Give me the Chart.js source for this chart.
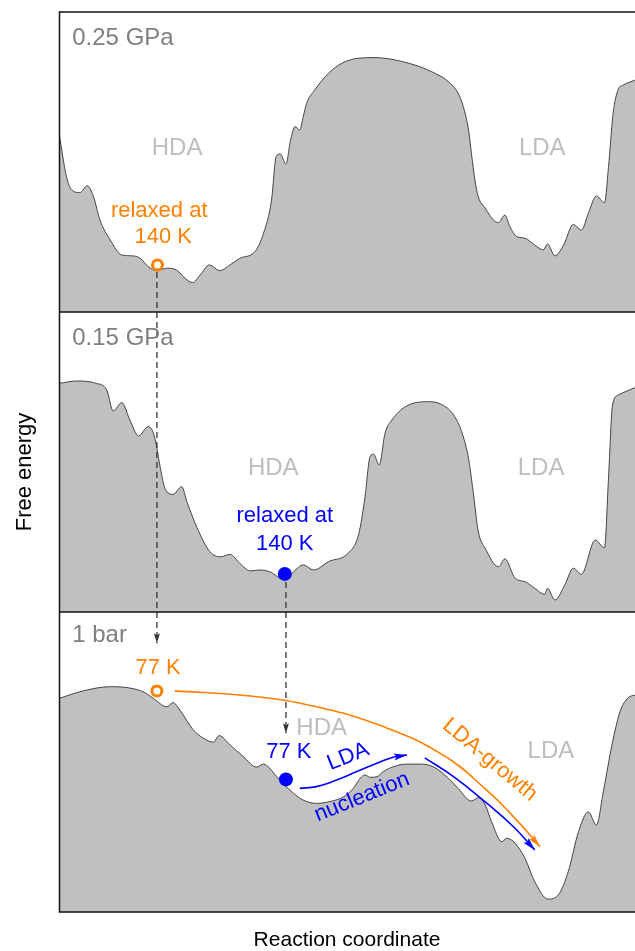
<!DOCTYPE html>
<html lang="en">
<head>
<meta charset="UTF-8">
<title>Free energy landscapes</title>
<script src="https://cdn.jsdelivr.net/npm/chart.js"></script>
<style>
  html, body { margin: 0; padding: 0; background: #fff; }
  canvas { display: block; }
</style>
</head>
<body>
<canvas id="grafico" width="635" height="951"></canvas>
<script>
// ================= DATA (reaction coordinate 0-100, free energy 0-100 per panel) =================
const panelNames = ['0.25 GPa', '0.15 GPa', '1 bar'];

// 0.25 GPa
const x025 = [0, 1.3, 2.2, 3.6, 4.9, 6.0, 7.1, 8.9, 10.9, 12.9, 14.1, 15.5, 17.0, 18.7, 20.4, 21.9, 23.2, 24.5, 26.1, 27.9,
  29.7, 31.4, 34.0, 35.5, 36.9, 37.7, 38.4, 39.4, 40.2, 41.0, 41.8, 42.4, 43.0, 44.4, 46.8, 49.1, 52.0, 54.9, 57.8, 61.8,
  64.7, 67.6, 69.3, 70.2, 71.1, 71.6, 72.2, 72.8, 74.0, 75.4, 76.3, 77.4, 78.3, 79.5, 80.9, 82.6, 84.1, 84.8, 86.1, 87.6,
  89.3, 89.9, 90.7, 91.9, 93.3, 94.7, 95.4, 96.2, 97.1, 98.0, 100];
const e025 = [59.7, 45.1, 40.7, 39.8, 42.1, 38.4, 30.7, 24.0, 19.0, 18.7, 17.9, 15.1, 13.8, 14.6, 14.0, 11.2, 9.8, 12.3, 15.7, 13.8,
  15.7, 17.9, 20.1, 26.2, 37.3, 51.8, 52.7, 49.3, 57.3, 61.8, 60.7, 65.1, 69.6, 74.0, 79.6, 82.9, 84.6, 84.8, 84.2, 82.3,
  80.1, 76.8, 72.9, 68.4, 60.7, 52.9, 44.0, 38.4, 34.6, 30.7, 29.8, 32.3, 28.4, 25.1, 24.6, 22.3, 20.7, 22.7, 18.7, 22.3,
  29.2, 28.4, 27.3, 32.9, 38.7, 36.4, 48.4, 66.2, 74.2, 75.7, 77.3];

// 0.15 GPa
const x015 = [0, 3.1, 6.5, 8.3, 9.4, 10.9, 12.3, 13.8, 15.5, 16.4, 17.0, 17.5, 18.4, 19.8, 21.3, 22.2, 23.9, 26.2, 28.0, 29.7,
  31.4, 33.2, 34.9, 36.6, 39.2, 40.7, 42.4, 44.2, 46.8, 50.2, 52.0, 53.1, 54.0, 54.6, 55.6, 56.6, 57.8, 60.1, 64.1, 66.4,
  68.5, 69.9, 71.1, 71.9, 72.8, 74.0, 76.3, 77.4, 79.2, 80.9, 82.6, 84.3, 84.8, 86.1, 87.8, 89.3, 90.7, 93.1, 94.7, 95.4,
  96.1, 97.1, 100];
const e015 = [76.2, 77.0, 76.2, 74.0, 67.0, 69.8, 64.0, 58.7, 61.8, 59.6, 54.6, 49.0, 41.2, 39.2, 41.8, 36.8, 28.4, 20.1, 18.4, 19.2,
  16.2, 13.7, 14.0, 13.4, 10.7, 13.4, 15.7, 14.0, 16.8, 19.6, 25.7, 37.9, 51.8, 52.6, 49.0, 59.6, 64.0, 68.4, 70.1, 69.2,
  65.7, 60.1, 51.2, 40.1, 26.8, 21.2, 15.1, 17.7, 11.2, 10.1, 7.9, 5.9, 7.9, 4.0, 9.0, 14.6, 12.6, 24.0, 21.4, 44.6,
  69.0, 72.3, 74.8];

// 1 bar
const x1bar = [0, 4.2, 8.9, 11.8, 14.6, 16.4, 18.7, 19.8, 21.0, 23.3, 25.1, 26.8, 27.8, 29.7, 32.0, 34.3, 35.5, 36.6, 37.8, 38.9,
  40.7, 42.4, 44.7, 47.0, 49.4, 51.1, 52.3, 53.1, 54.0, 55.2, 56.3, 58.0, 60.4, 62.7, 65.0, 67.6, 69.3, 71.6, 72.8, 74.0,
  75.1, 76.9, 77.7, 79.2, 80.9, 82.6, 84.9, 86.7, 88.4, 90.2, 91.9, 93.3, 94.5, 96.0, 97.4, 98.8, 100];
const e1bar = [71.2, 73.7, 75.1, 74.8, 73.4, 71.2, 68.4, 69.8, 67.3, 60.7, 57.9, 56.6, 58.8, 55.7, 51.8, 48.3, 49.3, 47.9, 45.1, 42.9,
  39.6, 37.3, 36.2, 36.8, 38.4, 41.2, 44.6, 45.7, 44.9, 45.1, 46.8, 48.4, 49.3, 49.3, 48.4, 44.6, 41.2, 37.0, 38.1, 35.7,
  30.1, 23.4, 24.6, 22.9, 17.9, 10.1, 4.3, 5.7, 13.4, 26.8, 33.4, 29.0, 40.1, 55.7, 66.8, 71.4, 72.3];

// states: [x, energy]
const state140K_025 = [17.1, 15.7];
const state140K_015 = [39.2, 12.7];
const state77K_orange = [17.0, 73.7];
const state77K_blue = [39.4, 44.2];

// paths in panel "1 bar"
const growthX = [20.1, 33.2, 44.7, 56.3, 66.7, 74.2, 78.9, 83.5];
const growthE = [73.7, 72.0, 68.4, 61.8, 52.3, 40.7, 31.8, 21.8];
const nuclX = [41.8, 44.7, 48.2, 51.7, 55.2, 58.0, 60.4];
const nuclE = [41.2, 41.8, 44.0, 46.8, 49.6, 51.6, 52.3];
const slideX = [63.5, 68.5, 74.3, 78.9, 82.6];
const slideE = [51.4, 45.1, 36.2, 28.4, 20.7];

// ================= COLORES =================
const ORANGE = '#ff8000';
const BLUE = '#0000ff';
const FILL = '#c0c0c0';
const FONT = '"Liberation Sans", Arial, Helvetica, sans-serif';

// panel offsets on the shared y axis: top panel 200-300, middle 100-200, bottom 0-100
const base = [200, 100, 0];

function zip(xs, es, off) {
  return xs.map((x, i) => ({ x: x, y: es[i] + off }));
}

function curve(xs, es, off) {
  return {
    data: zip(xs, es, off),
    fill: { value: off },
    backgroundColor: FILL,
    borderColor: '#444',
    borderWidth: 1,
    pointRadius: 0,
    tension: 0.4,
    cubicInterpolationMode: 'monotone',
    order: 5
  };
}

function path(xs, es, off, color, width, head) {
  return {
    data: zip(xs, es, off),
    fill: false,
    borderColor: color,
    borderWidth: width,
    pointRadius: 0,
    tension: 0.45,
    arrow: head,
    order: 3
  };
}

function ring(p, off) {
  return { data: [{ x: p[0], y: p[1] + off }], showLine: false, pointRadius: 5, pointBorderWidth: 3,
    pointBorderColor: ORANGE, pointBackgroundColor: '#fff', order: 1 };
}
function dot(p, off) {
  return { data: [{ x: p[0], y: p[1] + off }], showLine: false, pointRadius: 7, pointBorderWidth: 0,
    pointBackgroundColor: BLUE, order: 1 };
}

const datasets = [
  curve(x025, e025, base[0]),
  curve(x015, e015, base[1]),
  curve(x1bar, e1bar, base[2]),
  // dashed transfers between panels
  { data: [{ x: 17.0, y: 213.3 }, { x: 17.0, y: 89.6 }], fill: false, borderColor: '#333', borderWidth: 1.3,
    borderDash: [6, 4], pointRadius: 0, arrow: [10, 6], order: 4 },
  { data: [{ x: 39.4, y: 110 }, { x: 39.4, y: 59.6 }], fill: false, borderColor: '#333', borderWidth: 1.3,
    borderDash: [6, 4], pointRadius: 0, arrow: [10, 6], order: 4 },
  path(growthX, growthE, base[2], ORANGE, 1.6, [13, 7]),
  path(nuclX, nuclE, base[2], BLUE, 1.6, [13, 7]),
  path(slideX, slideE, base[2], BLUE, 1.6, [13, 7]),
  ring(state140K_025, base[0]),
  dot(state140K_015, base[1]),
  ring(state77K_orange, base[2]),
  dot(state77K_blue, base[2])
];

// texts: [text, x, y, color, size, rotation(deg), align]
const notes = [
  [panelNames[0], 2.3, 291.3, '#7f7f7f', 24, 0, 'left'],
  ['HDA', 20.5, 254.7, '#bdbdbd', 24, 0, 'center'],
  ['LDA', 83.9, 254.7, '#bdbdbd', 24, 0, 'center'],
  ['relaxed at', 17.4, 233.7, ORANGE, 22, 0, 'center'],
  ['140 K', 18.1, 225.0, ORANGE, 22, 0, 'center'],
  [panelNames[1], 2.3, 191.2, '#7f7f7f', 24, 0, 'left'],
  ['HDA', 37.2, 148.0, '#bdbdbd', 24, 0, 'center'],
  ['LDA', 83.7, 148.0, '#bdbdbd', 24, 0, 'center'],
  ['relaxed at', 39.2, 132.0, BLUE, 22, 0, 'center'],
  ['140 K', 39.2, 122.7, BLUE, 22, 0, 'center'],
  [panelNames[2], 2.3, 92.2, '#7f7f7f', 24, 0, 'left'],
  ['77 K', 17.2, 81.5, ORANGE, 22, 0, 'center'],
  ['HDA', 45.6, 61.3, '#bdbdbd', 24, 0, 'center'],
  ['77 K', 39.9, 53.3, BLUE, 22, 0, 'center'],
  ['LDA', 50.2, 51.8, BLUE, 22, -22, 'center'],
  ['nucleation', 52.6, 38.3, BLUE, 22, -22, 'center'],
  ['LDA-growth', 74.8, 50.7, ORANGE, 22, 40, 'center'],
  ['LDA', 85.4, 53.7, '#bdbdbd', 24, 0, 'center']
];

// ================= PLUGIN =================
const dibujo = {
  id: 'dibujo',
  afterDatasetsDraw(chart) {
    const ctx = chart.ctx;
    chart.data.datasets.forEach((ds, i) => {
      if (!ds.arrow) return;
      const pts = chart.getDatasetMeta(i).data;
      const b = pts[pts.length - 1];
      const a = pts[pts.length - 2];
      let fx = b.cp1x, fy = b.cp1y;
      if (fx === undefined || Math.hypot(b.x - fx, b.y - fy) < 0.5) { fx = a.x; fy = a.y; }
      const ang = Math.atan2(b.y - fy, b.x - fx);
      const len = ds.arrow[0], w = ds.arrow[1];
      ctx.save();
      ctx.translate(b.x, b.y);
      ctx.rotate(ang);
      ctx.beginPath();
      ctx.moveTo(0, 0);
      ctx.lineTo(-len, -w / 2);
      ctx.lineTo(-len * 0.8, 0);
      ctx.lineTo(-len, w / 2);
      ctx.closePath();
      ctx.fillStyle = ds.borderColor;
      ctx.fill();
      ctx.restore();
    });
  },
  afterDraw(chart) {
    const ctx = chart.ctx;
    const xs = chart.scales.x, ys = chart.scales.y;
    const area = chart.chartArea;

    // frame and panel separators
    ctx.save();
    ctx.strokeStyle = '#111';
    ctx.lineWidth = 1.5;
    ctx.strokeRect(area.left + 0.5, area.top, area.right - area.left + 2, area.bottom - area.top);
    [100, 200].forEach(v => {
      const y = ys.getPixelForValue(v);
      ctx.beginPath();
      ctx.moveTo(area.left, y);
      ctx.lineTo(area.right, y);
      ctx.stroke();
    });

    // annotations
    notes.forEach(n => {
      ctx.save();
      ctx.translate(xs.getPixelForValue(n[1]), ys.getPixelForValue(n[2]));
      ctx.rotate(n[5] * Math.PI / 180);
      ctx.font = n[4] + 'px ' + FONT;
      ctx.fillStyle = n[3];
      ctx.textAlign = n[6];
      ctx.textBaseline = 'middle';
      ctx.fillText(n[0], 0, 0);
      ctx.restore();
    });

    // axis titles
    ctx.fillStyle = '#000';
    ctx.textAlign = 'center';
    ctx.textBaseline = 'middle';
    ctx.font = '21px ' + FONT;
    ctx.fillText('Reaction coordinate', (area.left + area.right) / 2, 940);
    ctx.translate(25, 472);
    ctx.rotate(-Math.PI / 2);
    ctx.font = '22px ' + FONT;
    ctx.fillText('Free energy', 0, 0);
    ctx.restore();
  }
};

new Chart(document.getElementById('grafico').getContext('2d'), {
  type: 'line',
  data: { datasets: datasets },
  options: {
    responsive: false,
    animation: false,
    devicePixelRatio: 1,
    layout: { autoPadding: false, padding: { left: 59, top: 12, right: 0, bottom: 39 } },
    plugins: { legend: { display: false }, tooltip: { enabled: false } },
    scales: {
      x: { type: 'linear', min: 0, max: 100, display: false },
      y: { type: 'linear', min: 0, max: 300, display: false }
    }
  },
  plugins: [dibujo]
});
</script>
</body>
</html>
